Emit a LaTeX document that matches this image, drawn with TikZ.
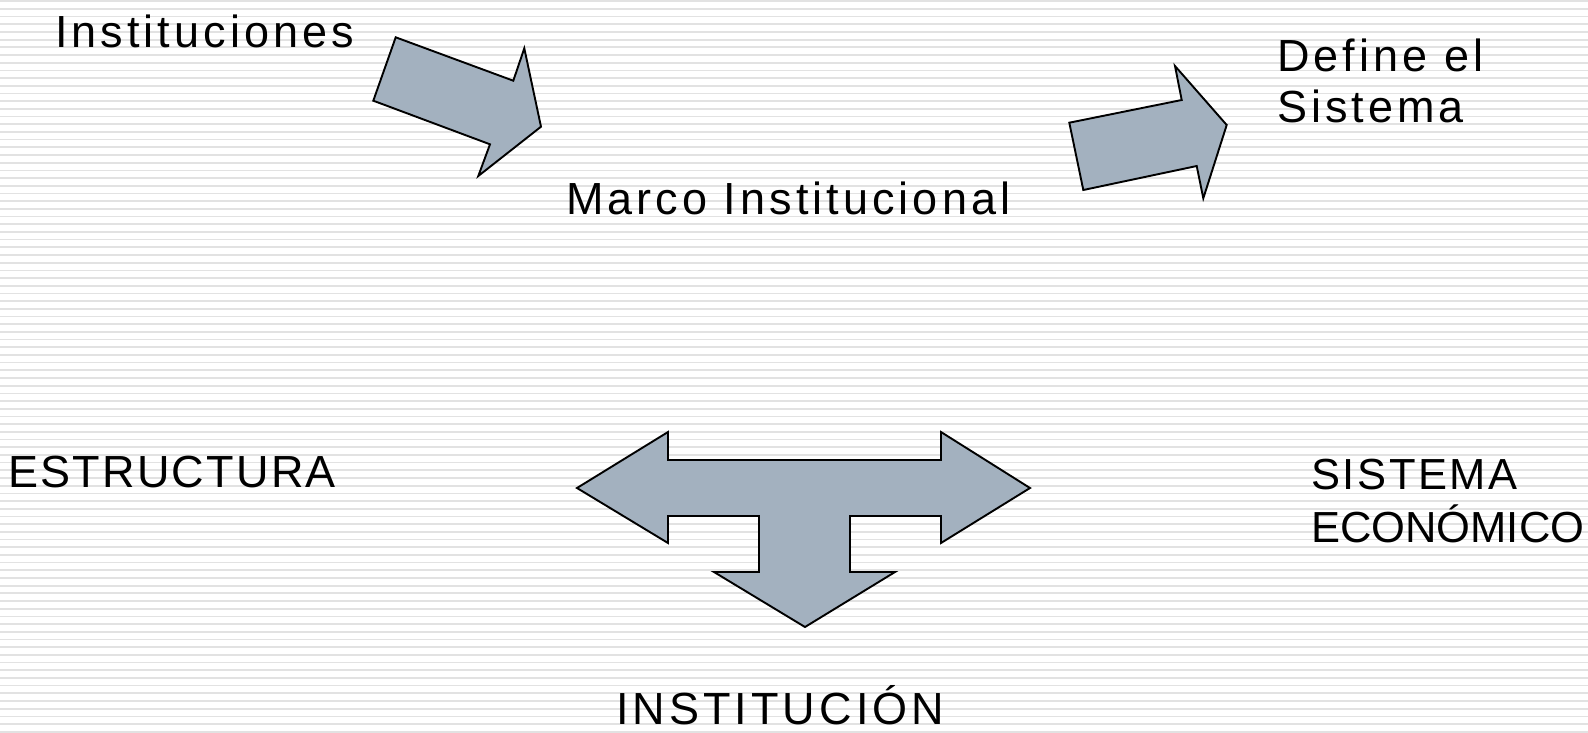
\documentclass[tikz,border=0pt]{standalone}
\usepackage{fontspec}
\setmainfont{Liberation Sans}[LetterSpace=9]
\newfontfamily\capsfont{Liberation Sans}[LetterSpace=5]
\newfontfamily\tightfont{Liberation Sans}
\definecolor{arrowfill}{RGB}{163,177,191}
\definecolor{stripe}{RGB}{226,226,226}
\begin{document}
\begin{tikzpicture}[x=1pt,y=-1pt,
  arrowshape/.style={draw=black, fill=arrowfill, line width=1.9pt, line join=miter},
  labeltext/.style={inner sep=0pt, anchor=base west, align=left, font=\fontsize{45}{51}\selectfont},
  capstext/.style={labeltext, font=\fontsize{45}{53}\capsfont},
  tighttext/.style={labeltext, font=\fontsize{43.5}{53}\tightfont}]
\useasboundingbox (0,0) rectangle (1588,732);
% striped background
\foreach \k in {0,...,95}
  \draw[stripe, line width=1.7pt] (0,1.2+7.69*\k)--(1588,1.2+7.69*\k);
% arrows
\draw[arrowshape] (395.7,37.3)--(513.3,80.7)--(524.3,48.3)--(541,126.7)--(478.3,176)
  --(490,144.3)--(373.3,100.7)--cycle;
\draw[arrowshape] (1069.3,122.7)--(1181.7,100)--(1175,66)--(1226.7,125)--(1203.3,198.3)
  --(1196.7,166)--(1083.3,190)--cycle;
\draw[arrowshape] (577,488)--(668,432)--(668,460)--(941,460)--(941,432)--(1030,488)
  --(941,543)--(941,516)--(850,516)--(850,572)--(895,572)--(805,627)--(714,572)
  --(759,572)--(759,516)--(668,516)--(668,543)--cycle;
% texts (base = last line)
\node[labeltext] (inst) at (55,47) {Instituciones};
\node[labeltext] (marco) at (566,214) {Marco Institucional};
\node[labeltext] (define) at (1277,122) {Define el\\Sistema};
\node[capstext] (estr) at (8,487) {ESTRUCTURA};
\node[tighttext] (sist) at (1311,542) {{\addfontfeature{LetterSpace=6}SISTEMA}\\ECONÓMICO};
\node[labeltext] (instit) at (616,724) {INSTITUCIÓN};
\end{tikzpicture}
\end{document}
